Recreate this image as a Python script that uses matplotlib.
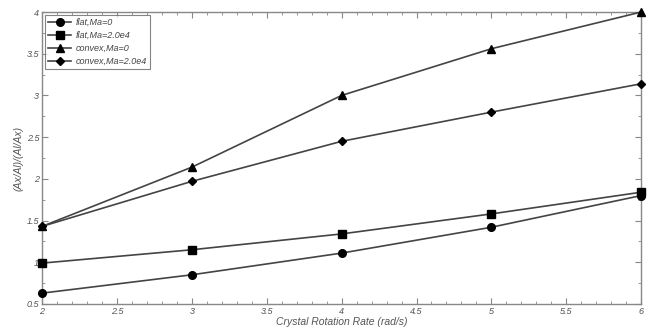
import matplotlib
matplotlib.use("Agg")
import matplotlib.pyplot as plt
from matplotlib.ticker import MultipleLocator, FormatStrFormatter

# crystal rotation rate (rad/s)
rate = [2, 3, 4, 5, 6]

# (Ax/Al)/(Al/Ax) for each case
flat_ma0 = [0.63, 0.85, 1.11, 1.42, 1.80]
flat_ma2e4 = [0.99, 1.15, 1.34, 1.58, 1.84]
convex_ma0 = [1.43, 2.14, 3.00, 3.56, 4.00]
convex_ma2e4 = [1.43, 1.97, 2.45, 2.80, 3.14]

labels = ["flat,Ma=0", "flat,Ma=2.0e4", "convex,Ma=0", "convex,Ma=2.0e4"]
markers = ["o", "s", "^", "D"]

plt.rcParams["font.family"] = ["Liberation Sans", "DejaVu Sans"]
plt.rcParams["font.style"] = "italic"

fig = plt.figure(figsize=(6.51, 3.29), dpi=100)
ax = fig.add_axes([0.0645, 0.076, 0.9205, 0.8875])

series = [flat_ma0, flat_ma2e4, convex_ma0, convex_ma2e4]
for ys, lab, m in zip(series, labels, markers):
    ms = 4.5 if m == "D" else 5.5
    ax.plot(rate, ys, color="#444444", lw=1.2, marker=m, ms=ms,
            mfc="black", mec="black", label=lab, clip_on=False, zorder=3)

ax.set_xlim(2, 6)
ax.set_ylim(0.5, 4)
ax.xaxis.set_major_locator(MultipleLocator(0.5))
ax.xaxis.set_minor_locator(MultipleLocator(0.1))
ax.yaxis.set_major_locator(MultipleLocator(0.5))
ax.yaxis.set_minor_locator(MultipleLocator(0.25))
ax.xaxis.set_major_formatter(FormatStrFormatter("%g"))
ax.yaxis.set_major_formatter(FormatStrFormatter("%g"))
ax.tick_params(which="both", direction="in", top=True, right=True,
               colors="#888888", labelcolor="#555555", labelsize=6.5, pad=2)
ax.tick_params(which="major", length=4, width=0.8)
ax.tick_params(which="minor", length=2, width=0.6)
for s in ax.spines.values():
    s.set_color("#888888")
    s.set_linewidth(1.0)

ax.set_xlabel("Crystal Rotation Rate (rad/s)", fontsize=7.5, color="#555555", labelpad=1)
ax.set_ylabel("(Ax/Al)/(Al/Ax)", fontsize=7.5, color="#555555", labelpad=2)

leg = ax.legend(loc="upper left", fontsize=6.5, frameon=True, fancybox=False,
                edgecolor="#666666", borderaxespad=0.3, handlelength=2.6,
                labelspacing=0.45, borderpad=0.35, handletextpad=0.5)
leg.get_frame().set_linewidth(0.8)
for t in leg.get_texts():
    t.set_color("#444444")

fig.savefig("out.png", dpi=100)
